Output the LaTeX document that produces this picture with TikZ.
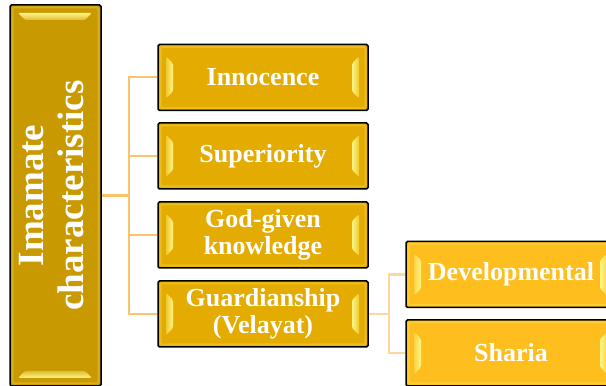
\documentclass[tikz,border=0pt]{standalone}
\usepackage{fontspec}
\setmainfont{Liberation Serif}
\usepackage{graphicx}
\usepackage{tikz}
\usetikzlibrary{calc}
\definecolor{imgold}{RGB}{200,153,0}
\definecolor{itgold}{RGB}{228,171,0}
\definecolor{subgold}{RGB}{253,190,30}
\definecolor{glow}{RGB}{255,245,130}
\definecolor{trunk}{RGB}{250,196,105}
\definecolor{twig}{RGB}{253,214,160}

\tikzset{
  bevel/.style={draw=black, line width=1.5pt, rounded corners=1.5pt, text=white,
    align=center, inner sep=0pt, font=\bfseries\fontsize{26}{27}\selectfont},
  sideglow/.style={path picture={
    \coordinate (sw) at (path picture bounding box.south west);
    \coordinate (ne) at (path picture bounding box.north east);
    \draw[#1!75!glow, line width=2pt] ($(sw)+(2.5,2.5)$) rectangle ($(ne)+(-2.5,-2.5)$);
    \fill[left color=#1!60!glow, right color=glow] ($(sw)+(8,12)$) -- ($(sw|-ne)+(8,-12)$)
      -- ++(7,-7) -- ($(sw)+(15,19)$) -- cycle;
    \fill[left color=glow, right color=#1!60!glow] ($(ne|-sw)+(-16,19)$) -- ($(ne)+(-16,-19)$)
      -- ++(7,7) -- ($(ne|-sw)+(-9,12)$) -- cycle;
  }},
  topglow/.style={path picture={
    \coordinate (sw) at (path picture bounding box.south west);
    \coordinate (ne) at (path picture bounding box.north east);
    \draw[#1!75!glow, line width=2pt] ($(sw)+(2.5,2.5)$) rectangle ($(ne)+(-2.5,-2.5)$);
    \fill[top color=glow, bottom color=#1!60!glow] ($(sw|-ne)+(8,-8)$) -- ($(ne)+(-9,-8)$)
      -- ++(-7,-7) -- ($(sw|-ne)+(15,-15)$) -- cycle;
    \fill[top color=#1!60!glow, bottom color=glow] ($(sw)+(15,15)$) -- ($(ne|-sw)+(-16,15)$)
      -- ++(7,-7) -- ($(sw)+(8,8)$) -- cycle;
  }},
  mainbox/.style={bevel, fill=imgold, minimum width=91, minimum height=381, topglow=imgold},
  itembox/.style={bevel, fill=itgold, minimum width=210, minimum height=66, sideglow=itgold},
  subbox/.style={bevel, fill=subgold, minimum width=210, minimum height=66, sideglow=subgold},
  stem/.style={draw=trunk, line width=3pt},
  branch/.style={draw=trunk, line width=2pt},
  subbranch/.style={draw=twig, line width=2.5pt}
}

\begin{document}
\begin{tikzpicture}[x=1pt,y=1pt]
\useasboundingbox (0,0) rectangle (606,386);
\clip (0,0) rectangle (606,386);

% root
\node[mainbox] (main) at (55.5,190.5)
  {\rotatebox{90}{\fontsize{37}{40}\selectfont\begin{tabular}{@{}c@{}}Imamate\\characteristics\end{tabular}}};

% characteristics
\node[itembox] (inno)  at (263,308.5) {Innocence};
\node[itembox] (supe)  at (263,230)   {Superiority};
\node[itembox] (god)   at (263,151)   {God-given\\knowledge};
\node[itembox] (guard) at (263,72)    {Guardianship\\(Velayat)};

% kinds of guardianship
\node[subbox] (dev) at (511,111.5) {Developmental};
\node[subbox] (sha) at (511,33)    {Sharia};

% connectors
\draw[stem] (main.east) -- ++(27,0) coordinate (fork);
\foreach \n in {inno,supe,god,guard}
  \draw[branch] (fork) |- (\n.west);
\draw[subbranch] (guard.east) -- ++(20,0) coordinate (subfork);
\foreach \n in {dev,sha}
  \draw[subbranch] (subfork) |- (\n.west);
\end{tikzpicture}
\end{document}
